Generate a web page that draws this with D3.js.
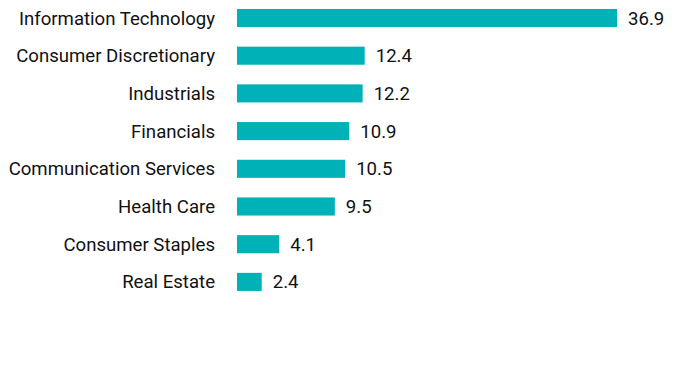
<!DOCTYPE html>
<html>
<head>
<meta charset="utf-8">
<script src="https://cdn.jsdelivr.net/npm/d3@7"></script>
<style>
  body { margin: 0; background: #fff; }
  text { font-family: Roboto, "Noto Sans", sans-serif; fill: #111; }
</style>
</head>
<body>
<div id="chart"></div>
<script>
// sector weights (%)
var sectors = ["Information Technology", "Consumer Discretionary", "Industrials", "Financials",
    "Communication Services", "Health Care", "Consumer Staples", "Real Estate"];
var weights = [36.9, 12.4, 12.2, 10.9, 10.5, 9.5, 4.1, 2.4];

var width = 696,
    height = 384,
    left = 237,
    barColor = "#00b2b8";

var data = sectors.map(function(s, i) {
    return { name: s, value: weights[i] };
});

var svg = d3.select("#chart").append("svg")
    .attr("width", width)
    .attr("height", height)
    .style("display", "block");

var x = d3.scaleLinear().domain([0, 36.9]).range([left, 617]);
var y = d3.scaleBand().domain(sectors).range([-0.85, 300.75])
    .paddingInner(0.52)
    .paddingOuter(0.26);

svg.selectAll("rect.bar")
    .data(data)
    .enter().append("rect")
    .attr("class", "bar")
    .attr("x", x(0))
    .attr("y", function(d) { return y(d.name); })
    .attr("width", function(d) { return x(d.value) - x(0); })
    .attr("height", y.bandwidth())
    .style("fill", barColor);

// category labels
svg.selectAll("text.cat")
    .data(data)
    .enter().append("text")
    .attr("class", "cat")
    .attr("x", 215)
    .attr("y", function(d) { return y(d.name) + y.bandwidth() / 2; })
    .attr("dy", ".35em")
    .style("text-anchor", "end")
    .style("font-size", "18.6px")
    .text(function(d) { return d.name; });

// value labels
svg.selectAll("text.val")
    .data(data)
    .enter().append("text")
    .attr("class", "val")
    .attr("x", function(d) { return x(d.value) + 11; })
    .attr("y", function(d) { return y(d.name) + y.bandwidth() / 2; })
    .attr("dy", ".35em")
    .style("font-size", "18.6px")
    .text(function(d) { return d.value.toFixed(1); });
</script>
</body>
</html>
